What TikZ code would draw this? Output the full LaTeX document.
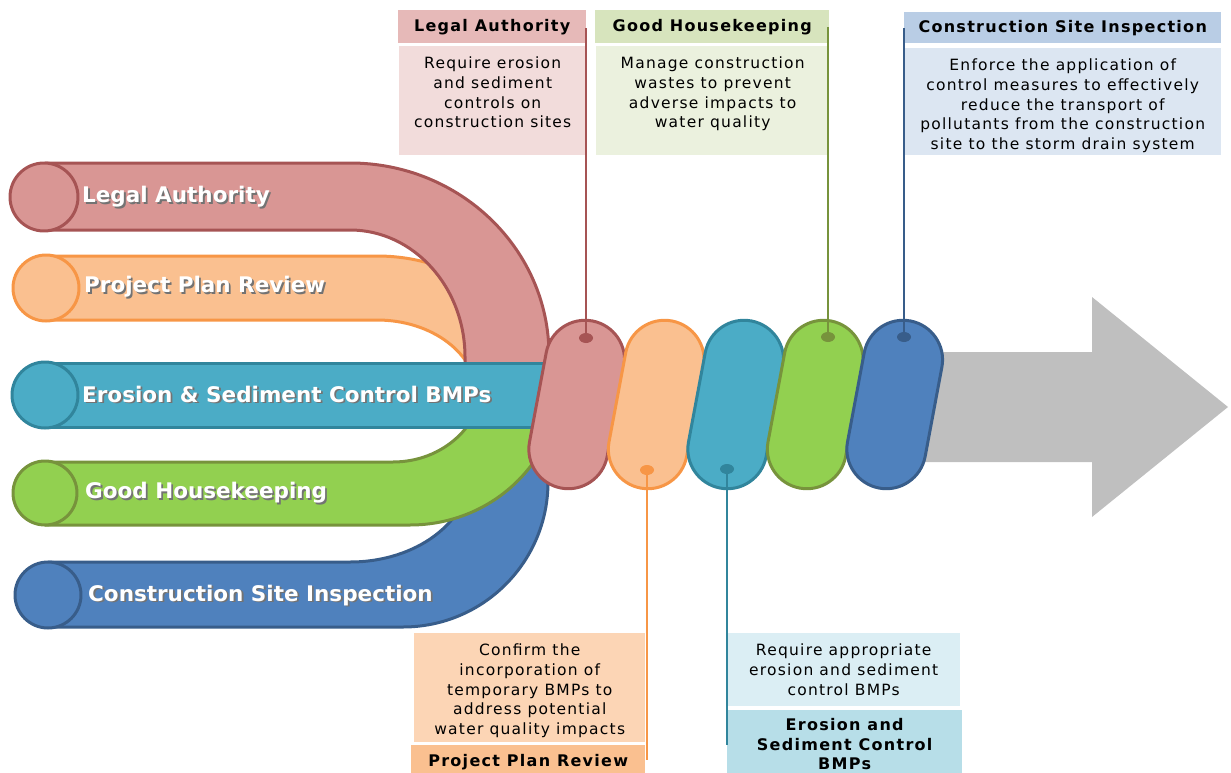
\documentclass[tikz,border=0pt]{standalone}
\usepackage{fontspec}
\setmainfont{DejaVu Sans}[LetterSpace=8]
\newfontfamily\tubefont{DejaVu Sans}
\usetikzlibrary{shapes.geometric}

\definecolor{laFill}{HTML}{D99694}
\definecolor{laLine}{HTML}{A65454}
\definecolor{laHead}{HTML}{E6B9B8}
\definecolor{laBody}{HTML}{F2DCDB}
\definecolor{ppFill}{HTML}{FAC090}
\definecolor{ppLine}{HTML}{F79646}
\definecolor{ppHead}{HTML}{FAC090}
\definecolor{ppBody}{HTML}{FCD5B5}
\definecolor{esFill}{HTML}{4BACC6}
\definecolor{esLine}{HTML}{31859C}
\definecolor{esHead}{HTML}{B7DEE8}
\definecolor{esBody}{HTML}{DBEEF4}
\definecolor{ghFill}{HTML}{92D050}
\definecolor{ghLine}{HTML}{77933C}
\definecolor{ghHead}{HTML}{D7E4BD}
\definecolor{ghBody}{HTML}{EBF1DE}
\definecolor{csFill}{HTML}{4F81BD}
\definecolor{csLine}{HTML}{385D8A}
\definecolor{csHead}{HTML}{B9CDE5}
\definecolor{csBody}{HTML}{DCE6F2}
\definecolor{arrowgray}{HTML}{BFBFBF}

\newcommand{\shadowed}[1]{\makebox[0pt][l]{\hspace{1.8pt}\raisebox{-1.8pt}{\color{black!55}#1}}#1}
\newcommand{\boxtext}[3]{\parbox[t][#1][t]{#2}{\centering\vspace*{11pt}#3}}

\begin{document}
\begin{tikzpicture}[x=1pt,y=-1pt,
    every node/.style={inner sep=0pt},
    tube/.style={line width=3pt, line join=round},
    pill/.style={rectangle, minimum width=79, minimum height=170, rounded corners=39.5, line width=3pt},
    dot/.style={ellipse, minimum width=14, minimum height=10},
    lead/.style={line width=1.5pt},
    tubelabel/.style={anchor=west, text=white, font=\tubefont\bfseries\fontsize{21.5}{25}\selectfont},
    head/.style={anchor=north west, font=\bfseries\fontsize{16}{19.6}\selectfont, align=center},
    body/.style={anchor=north west, font=\fontsize{15.5}{19.6}\selectfont}]
    \useasboundingbox (0,0) rectangle (1231,773);
    \fill [arrowgray] (880,352) -- (1092,352) -- (1092,297) -- (1228,407) -- (1092,517) -- (1092,462) -- (880,462) -- cycle;
    \filldraw [tube, draw=ppLine, fill=ppFill] (45,256) -- (377,256) .. controls (467.6,256) and (541,318.7) .. (541,396) -- (541,410) -- (477,410) -- (477,396) .. controls (477,354) and (432.2,320) .. (377,320) -- (45,320) -- cycle;
    \filldraw [tube, draw=ppLine, fill=ppFill] (46,288) circle (33);
    \filldraw [tube, draw=laLine, fill=laFill] (45,163) -- (350,163) .. controls (460,163) and (549,249) .. (549,355) -- (549,415) -- (465,415) -- (465,357) .. controls (465,287) and (413.5,230) .. (350,230) -- (45,230) -- cycle;
    \filldraw [tube, draw=laLine, fill=laFill] (44,197) circle (34);
    \filldraw [tube, draw=csLine, fill=csFill] (48,562) -- (350,562) .. controls (416.3,562) and (470,521.7) .. (470,472) -- (470,450) -- (548,450) -- (548,482) .. controls (548,562.1) and (483.1,627) .. (403,627) -- (48,627) -- cycle;
    \filldraw [tube, draw=csLine, fill=csFill] (48,595) circle (33);
    \filldraw [tube, draw=ghLine, fill=ghFill] (45,462) -- (393,462) .. controls (442.7,462) and (483,425.3) .. (483,380) -- (483,370) -- (560,370) -- (560,380) .. controls (560,460.1) and (492.8,525) .. (410,525) -- (45,525) -- cycle;
    \filldraw [tube, draw=ghLine, fill=ghFill] (45,493) circle (32);
    \filldraw [tube, draw=esLine, fill=esFill] (45,363) rectangle (545,427);
    \filldraw [tube, draw=esLine, fill=esFill] (45,395) circle (33);
    \node [tubelabel] (laLabel) at (82,198) {\shadowed{Legal Authority}};
    \node [tubelabel] (ppLabel) at (84,288) {\shadowed{Project Plan Review}};
    \node [tubelabel] (esLabel) at (82,395) {\shadowed{Erosion \& Sediment Control BMPs}};
    \node [tubelabel] (ghLabel) at (85,494) {\shadowed{Good Housekeeping}};
    \node [tubelabel] (csLabel) at (88,596) {\shadowed{Construction Site Inspection}};
    \node [pill, draw=laLine, fill=laFill, rotate=-10.6] (laPill) at (576.7,404.5) {};
    \node [pill, draw=ppLine, fill=ppFill, rotate=-10.6] (ppPill) at (656.2,404.5) {};
    \node [pill, draw=esLine, fill=esFill, rotate=-10.6] (esPill) at (735.7,404.5) {};
    \node [pill, draw=ghLine, fill=ghFill, rotate=-10.6] (ghPill) at (815.2,404.5) {};
    \node [pill, draw=csLine, fill=csFill, rotate=-10.6] (csPill) at (894.7,404.5) {};
    \node [dot, fill=laLine] (laDot) at (586,338) {};
    \node [dot, fill=ppLine] (ppDot) at (647,470) {};
    \node [dot, fill=esLine] (esDot) at (727,469) {};
    \node [dot, fill=ghLine] (ghDot) at (828,337) {};
    \node [dot, fill=csLine] (csDot) at (904,337) {};
    \node [head, fill=laHead, minimum width=188, minimum height=33] (laHeadBox) at (398,10) {Legal Authority};
    \node [body, fill=laBody] (laBodyBox) at (399,46) {\boxtext{109pt}{187pt}{Require erosion\\and sediment\\controls on\\construction sites}};
    \node [head, fill=ghHead, minimum width=234, minimum height=33] (ghHeadBox) at (595,10) {Good Housekeeping};
    \node [body, fill=ghBody] (ghBodyBox) at (596,46) {\boxtext{109pt}{233pt}{Manage construction\\wastes to prevent\\adverse impacts to\\water quality}};
    \node [head, fill=csHead, minimum width=317, minimum height=31] (csHeadBox) at (904,12) {Construction Site Inspection};
    \node [body, fill=csBody] (csBodyBox) at (904,48) {\boxtext{107pt}{317pt}{Enforce the application of\\control measures to effectively\\reduce the transport of\\pollutants from the construction\\site to the storm drain system}};
    \node [body, fill=ppBody] (ppBodyBox) at (414,633) {\boxtext{109pt}{231pt}{Confirm the\\incorporation of\\temporary BMPs to\\address potential\\water quality impacts}};
    \node [head, fill=ppHead, minimum width=234, minimum height=34] (ppHeadBox) at (411,745) {Project Plan Review};
    \node [body, fill=esBody] (esBodyBox) at (727,633) {\boxtext{73pt}{233pt}{Require appropriate\\erosion and sediment\\control BMPs}};
    \node [head, fill=esHead, minimum width=235, minimum height=68] (esHeadBox) at (727,710) {Erosion and\\Sediment Control\\BMPs};
    \coordinate (laTop) at (586,28);
    \coordinate (ghTop) at (828,27);
    \coordinate (csTop) at (904,28);
    \coordinate (ppEnd) at (647,760);
    \coordinate (esEnd) at (727,745);
    \draw [lead, laLine] (laDot) -- (laTop);
    \draw [lead, ppLine] (ppDot) -- (ppEnd);
    \draw [lead, esLine] (esDot) -- (esEnd);
    \draw [lead, ghLine] (ghDot) -- (ghTop);
    \draw [lead, csLine] (csDot) -- (csTop);
\end{tikzpicture}
\end{document}
